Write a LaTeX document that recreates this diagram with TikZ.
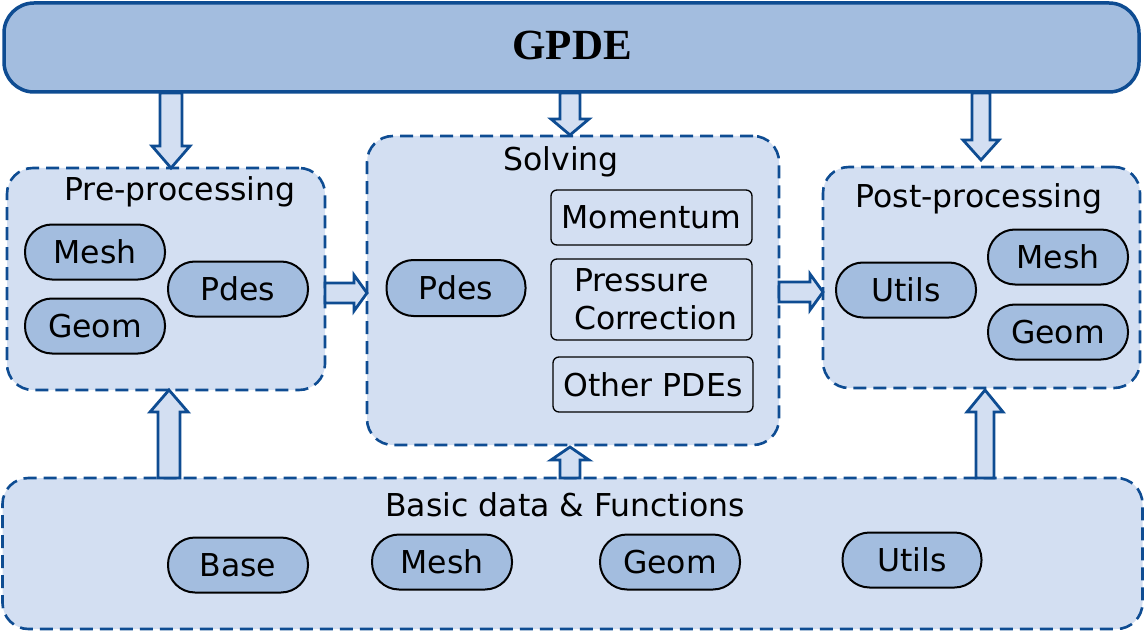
\documentclass[tikz,border=0pt]{standalone}
\usepackage{fontspec}
\setmainfont{DejaVu Sans}
\newfontfamily\titlefont{Liberation Serif}
\usetikzlibrary{calc}
\definecolor{bdark}{HTML}{0E4C92}
\definecolor{fdark}{HTML}{A3BDDF}
\definecolor{flight}{HTML}{D3DFF2}
\tikzset{
  top/.style={draw=bdark, line width=3.5pt, fill=fdark, rounded corners=30pt},
  group/.style={draw=bdark, line width=2.6pt, dash pattern=on 13pt off 7pt, fill=flight, rounded corners=26pt},
  pill/.style={draw=black, line width=2pt, fill=fdark, rounded corners=27pt, minimum width=140pt, minimum height=55pt, inner sep=0pt, font=\fontsize{31.5}{35}\selectfont},
  sbox/.style={draw=black, line width=1.3pt, rounded corners=6pt, minimum width=201pt, inner sep=0pt, align=left, font=\fontsize{31.5}{38}\selectfont},
  gtitle/.style={font=\fontsize{31.5}{35}\selectfont, inner sep=0pt},
  barrow/.style={draw=bdark, line width=2.8pt, fill=flight, line join=miter},
}
\newcommand{\darrow}[6]{% x, ytop, ytip, shaft half, head half, head length
  \draw[barrow] ({#1-#4},#2) -- ({#1+#4},#2) -- ({#1+#4},{#3-#6}) -- ({#1+#5},{#3-#6}) -- (#1,#3) -- ({#1-#5},{#3-#6}) -- ({#1-#4},{#3-#6}) -- cycle;}
\newcommand{\uarrow}[6]{% x, ybot, ytip, shaft half, head half, head length
  \draw[barrow] ({#1-#4},#2) -- ({#1+#4},#2) -- ({#1+#4},{#3+#6}) -- ({#1+#5},{#3+#6}) -- (#1,#3) -- ({#1-#5},{#3+#6}) -- ({#1-#4},{#3+#6}) -- cycle;}
\newcommand{\rarrow}[6]{% y, xleft, xtip, shaft half, head half, head length
  \draw[barrow] (#2,{#1-#4}) -- (#2,{#1+#4}) -- ({#3-#6},{#1+#4}) -- ({#3-#6},{#1+#5}) -- (#3,#1) -- ({#3-#6},{#1-#5}) -- ({#3-#6},{#1-#4}) -- cycle;}
\begin{document}
\begin{tikzpicture}[x=1pt,y=-1pt]
\useasboundingbox (0,0) rectangle (1145,631);
% top box
\node[top, minimum width=1135pt, minimum height=89pt, inner sep=0pt] (gpde) at (571.5,47.5) {};
\node[font=\titlefont\bfseries\fontsize{43}{46}\selectfont, inner sep=0pt] (gpdet) at (572,45) {GPDE};
% group boxes
\node[group, minimum width=318pt, minimum height=222pt, inner sep=0pt] (pre) at (166,279) {};
\node[group, minimum width=412pt, minimum height=309pt, inner sep=0pt] (sol) at (573,290.5) {};
\node[group, minimum width=317pt, minimum height=221pt, inner sep=0pt] (post) at (981.5,277.5) {};
\node[group, minimum width=1140pt, minimum height=151pt, inner sep=0pt] (basic) at (572.5,553.5) {};
% titles
\node[gtitle] (pret) at (180,192) {Pre-processing};
\node[gtitle] (solt) at (561,162) {Solving};
\node[gtitle] (postt) at (979,199) {Post-processing};
\node[gtitle] (basict) at (565,505) {Basic data \& Functions};
% pre-processing
\node[pill] (pmesh) at (95,252) {Mesh};
\node[pill] (pgeom) at (95,326) {Geom};
\node[pill] (ppdes) at (238,289) {Pdes};
% solving
\node[pill, minimum width=139pt, minimum height=56pt] (spdes) at (456,288) {Pdes};
\node[sbox, minimum height=55pt] (mom) at (651.5,217.5) {Momentum};
\node[sbox, minimum height=81pt] (pc) at (651.5,299.5) {\hspace*{8pt}Pressure\\\hspace*{8pt}Correction};
\node[sbox, minimum width=200pt, minimum height=55pt] (oth) at (653,384.5) {Other PDEs};
% post-processing
\node[pill] (putils) at (906,290) {Utils};
\node[pill] (pomesh) at (1058,257) {Mesh};
\node[pill] (pogeom) at (1058,332) {Geom};
% basic
\node[pill] (bbase) at (238,565) {Base};
\node[pill] (bmesh) at (442,562) {Mesh};
\node[pill] (bgeom) at (670,562) {Geom};
\node[pill, minimum width=139pt] (butils) at (912,560) {Utils};
% block arrows
\darrow{171}{93}{168}{11}{19}{22}
\darrow{570}{93}{135}{10}{19}{16}
\darrow{981}{93}{160}{9}{18}{20}
\rarrow{293}{325}{367}{10}{18}{13}
\rarrow{292}{779}{823}{10}{18}{13}
\uarrow{169}{478}{390}{11}{19}{22}
\uarrow{570}{478}{447}{10}{19}{13}
\uarrow{985}{478}{390}{9}{18}{22}
\end{tikzpicture}
\end{document}
